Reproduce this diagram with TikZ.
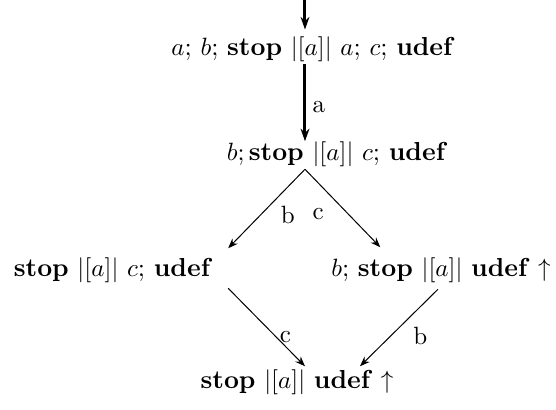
\documentclass[tikz,border=0pt]{standalone}
\usepackage{tikz}
\usetikzlibrary{arrows.meta}
\tikzset{
  state/.style={inner sep=1pt, anchor=base, font=\fontsize{10.4}{12.5}\selectfont},
  lbl/.style={inner sep=0pt, font=\normalsize},
  trans/.style={-{Stealth[length=4pt, width=3pt]}, line width=0.4pt},
  strong/.style={trans, line width=1.2pt, -{Stealth[length=5pt, width=3.5pt]}},
}
\newcommand{\stp}{\textbf{stop}}
\newcommand{\udf}{\textbf{udef}}
\newcommand{\syncpar}{$|[a]|$}
\begin{document}
\begin{tikzpicture}[x=0.4pt, y=0.4pt]
  \useasboundingbox (0,0) rectangle (556,409);

  % states
  \node[state] (n1) at (313,354) {$a$; $b$; \stp\ \syncpar\ $a$; $c$; \udf};
  \node[state] (n2) at (337,249) {$b;$\,\stp\ \syncpar\ $c$; \udf};
  \node[state] (n3) at (113,133) {\stp\ \syncpar\ $c$; \udf};
  \node[state] (n4) at (441,133) {$b$; \stp\ \syncpar\ \udf\ $\uparrow$};
  \node[state] (n5) at (297,21) {\stp\ \syncpar\ \udf\ $\uparrow$};

  \coordinate (init) at (305,409);

  % transitions
  \draw[strong] (init) -- ([yshift=1.5pt]init |- n1.north);
  \draw[strong] (n1.south -| init) -- node[lbl, pos=0.55, right=2.5pt] {a}
    ([yshift=-1.2pt]n2.north -| init);
  \draw[trans] (n2.south -| init) -- node[lbl, pos=0.58, right=8pt] {b}
    ([shift={(13,6)}]n3.north east);
  \draw[trans] (n2.south -| init) -- node[lbl, pos=0.58, left=9.8pt] {c}
    ([shift={(52,7)}]n4.north west);
  \draw[trans] ([shift={(13,-3)}]n3.south east) -- node[lbl, pos=0.62, right=1.4pt] {c}
    ([shift={(8,0)}]n5.north);
  \draw[trans] ([shift={(-3,-4)}]n4.south) -- node[lbl, pos=0.61, right=9pt] {b}
    ([shift={(63,0)}]n5.north);
\end{tikzpicture}
\end{document}
